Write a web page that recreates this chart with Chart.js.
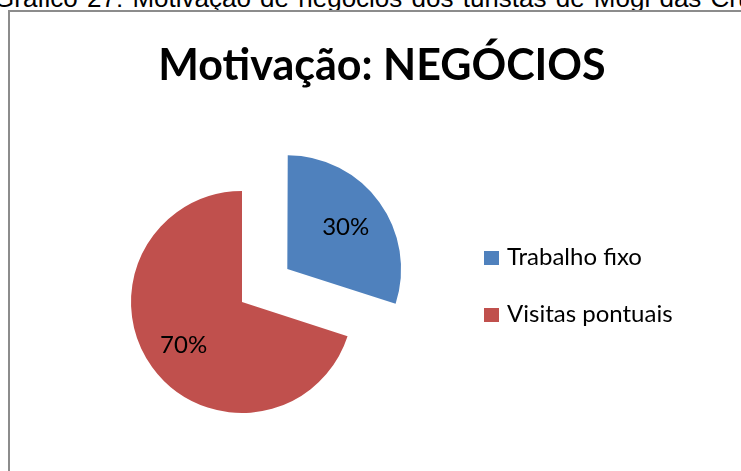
<!DOCTYPE html>
<html>
<head>
<meta charset="utf-8">
<script src="https://cdn.jsdelivr.net/npm/chart.js@4.4.1/dist/chart.umd.min.js"></script>
<style>
  html, body { margin: 0; padding: 0; background: #fff; overflow: hidden; }
  body { width: 741px; height: 471px; position: relative; }
  #caption {
    position: absolute; left: -6px; top: -15.5px; white-space: nowrap; word-spacing: 2px;
    font-family: "Liberation Sans", Arial, sans-serif; font-size: 26px; line-height: 26px; color: #000;
  }
  #frame {
    position: absolute; left: 8px; top: 10px; width: 760px; height: 480px;
    border-left: 2px solid #8c8c8c; border-top: 2px solid #8c8c8c;
  }
  #c { position: absolute; left: 0; top: 0; }
</style>
</head>
<body>
<div id="caption">Gráfico 27: Motivação de negócios dos turistas de Mogi das Cruzes</div>
<div id="frame"></div>
<canvas id="c" width="741" height="471"></canvas>
<script>
// Business motivation split
const categories = ['Trabalho fixo', 'Visitas pontuais'];
const shares = [30, 70];
const sliceColors = ['#4F81BD', '#C0504D'];
// Chart.js moves an arc by offset / 4, so 224 pulls the slice out 56px
const explode = [224, 0];
const chartTitle = 'Motivação: NEGÓCIOS';

const labelFont = '24px Lato, "Open Sans", sans-serif';

// Percent labels inside each slice, title and legend on the right
const decorations = {
  id: 'decorations',
  afterDatasetsDraw(chart) {
    const ctx = chart.ctx;
    const meta = chart.getDatasetMeta(0);
    const total = shares.reduce((a, b) => a + b, 0);
    ctx.save();
    ctx.fillStyle = '#000';
    ctx.font = labelFont;
    ctx.textAlign = 'center';
    ctx.textBaseline = 'middle';
    meta.data.forEach((arc, i) => {
      const p = arc.getProps(['x', 'y', 'startAngle', 'endAngle', 'outerRadius']);
      const mid = (p.startAngle + p.endAngle) / 2;
      const shift = (arc.options.offset || 0) / 4;
      const d = shift + p.outerRadius * 0.65;
      const pct = Math.round(shares[i] / total * 100) + '%';
      ctx.fillText(pct, p.x + Math.cos(mid) * d, p.y + Math.sin(mid) * d + 1);
    });

    // title
    ctx.font = 'bold 43px Lato, "Open Sans", sans-serif';
    ctx.textBaseline = 'alphabetic';
    ctx.fillText(chartTitle, 382, 80);

    // legend
    ctx.textAlign = 'left';
    ctx.font = labelFont;
    const rows = [258, 315];
    categories.forEach((name, i) => {
      ctx.fillStyle = sliceColors[i];
      ctx.fillRect(484, rows[i] - 7, 15, 14);
      ctx.fillStyle = '#000';
      ctx.fillText(name, 507, rows[i] + 7);
    });
    ctx.restore();
  }
};

new Chart(document.getElementById('c'), {
  type: 'pie',
  data: {
    labels: categories,
    datasets: [{
      data: shares,
      backgroundColor: sliceColors,
      borderWidth: 0,
      offset: explode,
      hoverOffset: 0,
      clip: false
    }]
  },
  options: {
    responsive: false,
    animation: false,
    radius: 111,
    layout: { padding: { left: 103, top: 163, right: 360, bottom: 30 } },
    plugins: {
      legend: { display: false },
      title: { display: false },
      tooltip: { enabled: false }
    },
    events: []
  },
  plugins: [decorations]
});
</script>
</body>
</html>
